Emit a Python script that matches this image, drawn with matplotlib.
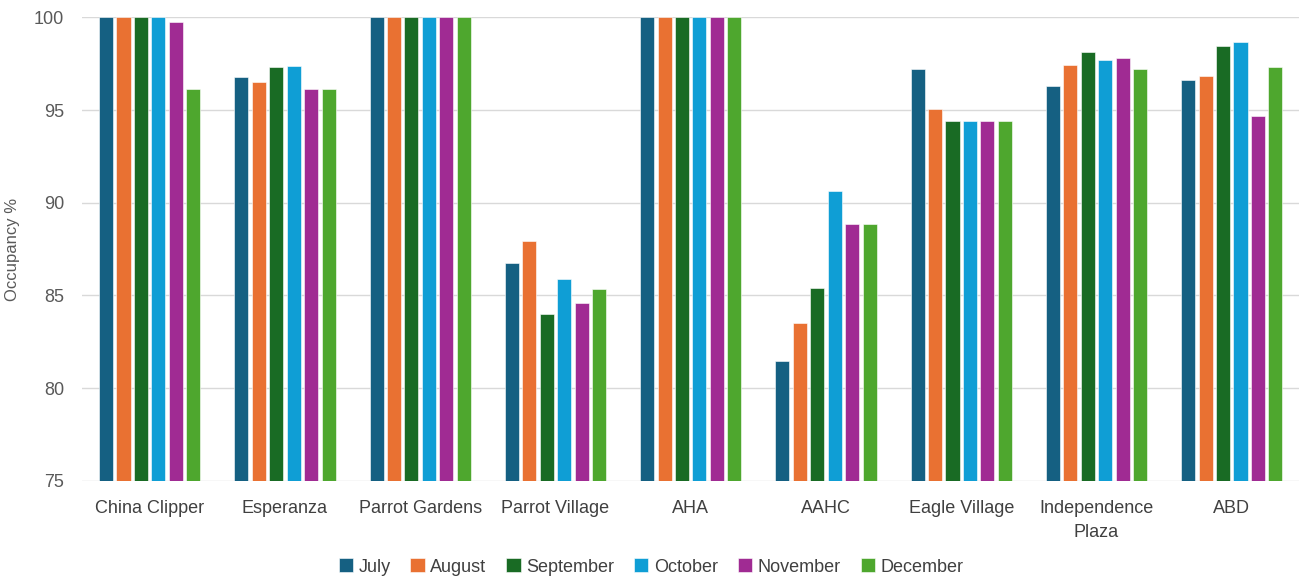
import matplotlib
matplotlib.use('Agg')
from matplotlib import pyplot as plt
import numpy as np

# property names along the x axis
sites = ['China Clipper', 'Esperanza', 'Parrot Gardens', 'Parrot Village', 'AHA',
         'AAHC', 'Eagle Village', 'Independence\nPlaza', 'ABD']

# occupancy % per month, one value per site
july = [100, 96.79, 100, 86.76, 100, 81.46, 97.22, 96.32, 96.61]
august = [100, 96.50, 100, 87.93, 100, 83.51, 95.06, 97.42, 96.86]
september = [100, 97.30, 100, 84.00, 100, 85.42, 94.43, 98.14, 98.45]
october = [100, 97.38, 100, 85.89, 100, 90.66, 94.43, 97.69, 98.66]
november = [99.73, 96.14, 100, 84.59, 100, 88.86, 94.43, 97.80, 94.66]
december = [96.14, 96.14, 100, 85.37, 100, 88.86, 94.43, 97.21, 97.31]

months = ['July', 'August', 'September', 'October', 'November', 'December']
series = [july, august, september, october, november, december]
colors = ['#156082', '#E97132', '#196B24', '#0F9ED5', '#A02B93', '#4EA72E']

plt.rcParams['font.family'] = ['Liberation Sans', 'DejaVu Sans']

fig = plt.figure(figsize=(13.02, 5.78), dpi=100)
ax = fig.add_axes([0.063, 0.168, 0.935, 0.802])

x = np.arange(len(sites))
pitch = 0.129
width = 0.104
for i, (name, vals) in enumerate(zip(months, series)):
    offset = (i - 2.5) * pitch
    ax.bar(x + offset, np.array(vals) - 75, width, bottom=75, color=colors[i],
           edgecolor='white', linewidth=0.4, label=name, zorder=3)

ax.set_ylim(75, 100)
ax.set_xlim(-0.5, len(sites) - 0.5)
ax.set_yticks([75, 80, 85, 90, 95, 100])
ax.set_xticks(x)
ax.set_xticklabels(sites, fontsize=13, color='#404040', linespacing=1.5)
ax.tick_params(axis='y', labelsize=13, colors='#595959', length=0, pad=13)
ax.tick_params(axis='x', length=0, pad=14)
ax.grid(axis='y', color='#D9D9D9', linewidth=1, zorder=0)
for s in ['top', 'right', 'left', 'bottom']:
    ax.spines[s].set_visible(False)
ax.set_ylabel('Occupancy %', fontsize=12, color='#595959', labelpad=10)

fig.legend(loc='center', bbox_to_anchor=(0.5, 1 - 567 / 578), ncol=6, frameon=False,
           fontsize=13, handlelength=0.8, handleheight=0.8, handletextpad=0.3,
           columnspacing=1.1, labelcolor='#404040')

plt.savefig('out.png', dpi=100)
